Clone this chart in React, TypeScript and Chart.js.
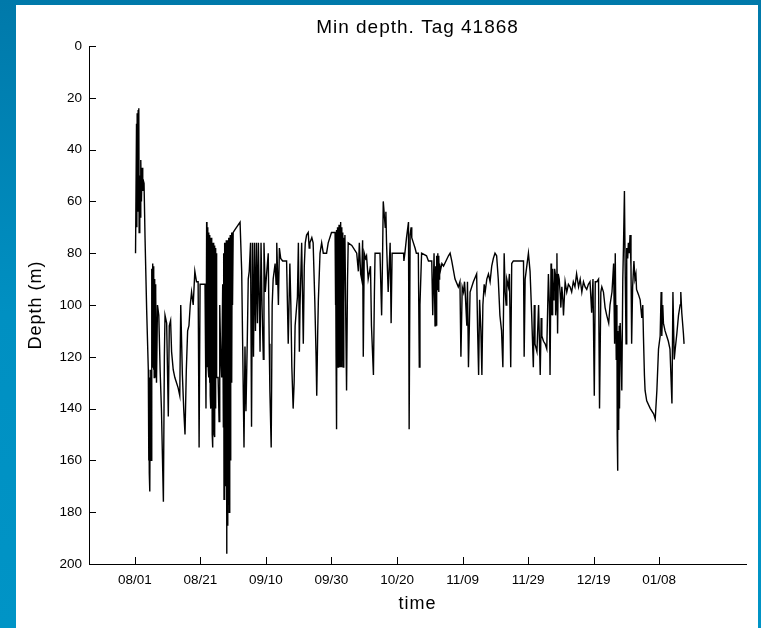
import React, { useEffect, useRef } from "react";
import { Chart, registerables } from "chart.js";

Chart.register(...registerables);

const chartTitle = "Min depth. Tag 41868";
const xAxisTitle = "time";
const yAxisTitle = "Depth (m)";

// x tick positions (days since 08/01) and their labels
const tickDays = [0, 20, 40, 60, 80, 100, 120, 140, 160];
const tickLabels = ["08/01", "08/21", "09/10", "09/30", "10/20", "11/09", "11/29", "12/19", "01/08"];
const depthTicks = [0, 20, 40, 60, 80, 100, 120, 140, 160, 180, 200];

// time in days since 08/01
const days = [
  0.2, 0.5, 0.6, 0.7, 0.9, 1.0, 1.2, 1.3, 1.5, 1.6, 1.8, 2.0, 2.2, 2.4, 2.6, 2.8, 3.1, 3.6, 4.1,
  4.2, 4.3, 4.4, 4.5, 4.6, 4.7, 4.8, 4.9, 5.0, 5.1, 5.2, 5.3, 5.4, 5.5, 5.6, 5.7, 5.8, 5.9, 6.0, 6.1, 6.2, 6.3, 6.4,
  6.6, 6.9, 7.3, 7.7, 8.1, 8.7, 9.0, 9.2, 9.7, 10.2, 10.5, 10.9, 11.2, 11.7, 12.2, 13.2, 13.7, 14.0, 14.5, 14.9, 15.3, 15.7, 16.1, 16.5, 16.9,
  17.3, 17.8, 18.3, 18.8, 19.3, 19.6, 19.9, 20.9, 21.4, 21.7,
  21.9, 22.0, 22.1, 22.2, 22.3, 22.4, 22.5, 22.6, 22.7, 22.8, 22.9, 23.0, 23.1, 23.2, 23.3, 23.4,
  23.5, 23.6, 23.7, 23.8, 23.9, 24.0, 24.1, 24.2, 24.3, 24.4, 24.5, 24.6, 24.7, 24.8, 24.9, 25.0,
  25.4, 25.7, 25.9, 26.2, 26.5, 26.8,
  27.0, 27.1, 27.2, 27.3, 27.4, 27.5, 27.6, 27.7, 27.8, 27.9, 28.0, 28.1, 28.2, 28.3, 28.4, 28.5,
  28.6, 28.7, 28.8, 28.9, 29.0, 29.1, 29.2, 29.3, 29.4, 29.5, 29.6, 29.7, 29.8, 30.0, 30.5,
  32.1, 32.6, 32.9, 33.3, 33.6, 33.9, 34.3, 34.6, 34.9, 35.3, 35.6, 35.9, 36.2, 36.5, 36.8, 37.1, 37.4, 37.7, 38.2, 38.5,
  38.8, 39.2, 39.4, 39.8, 40.2, 40.7, 41.0, 41.2, 41.6, 41.9, 42.2, 42.8, 43.1, 43.3, 43.8, 44.1, 44.5, 45.1, 46.3, 46.8, 47.3,
  47.6, 47.9, 48.3, 48.6, 48.9, 49.4, 49.6, 49.9, 50.2, 50.4, 50.9, 51.4, 51.7, 52.0, 52.4, 52.9,
  53.2, 53.4, 54.0, 54.4, 54.9, 55.3, 55.5, 55.8, 56.0, 56.5, 57.0, 57.5, 58.5, 59.0, 60.0,
  61.1, 61.2, 61.3, 61.4, 61.5, 61.6, 61.7, 61.8, 61.9, 62.0, 62.1, 62.2, 62.3, 62.4, 62.5, 62.6, 62.7,
  62.8, 62.9, 63.0, 63.1, 63.2, 63.3, 63.4, 63.5, 63.6, 63.7, 63.8, 63.9, 64.1, 64.4, 64.6, 64.9, 65.1,
  66.2, 67.7, 68.2, 68.5, 68.9, 69.2, 69.5, 69.7, 70.0, 70.4, 70.7, 71.2, 71.9, 72.2, 72.8, 73.1,
  73.3, 74.8, 75.3, 75.6, 75.8, 76.1, 76.4, 76.6, 76.8, 77.3, 77.9,
  78.2, 78.5, 78.9, 82.0, 82.1, 82.4, 82.9, 83.5, 83.7, 83.8, 84.0, 84.3, 84.5, 85.0, 85.5, 85.9,
  86.5, 86.8, 87.0, 87.5, 89.0, 89.6, 90.6, 90.9, 91.3,
  91.6, 91.8, 91.9, 92.0, 92.1, 92.2, 92.3, 92.4, 92.5, 92.6, 92.7, 92.8, 92.9, 93.0, 93.2, 93.7, 94.2, 95.7, 96.2, 96.7,
  97.7, 98.7, 99.2, 99.5, 99.9, 100.3, 100.6, 100.8, 101.3, 101.5, 101.8, 102.3, 103.3, 104.3, 104.6, 104.9, 105.2, 105.6, 105.9, 106.2,
  106.6, 106.9, 107.4, 107.9, 108.4,
  108.9, 109.4, 109.9, 110.4, 110.9, 111.4, 111.9, 112.3, 112.7, 113.0, 113.3, 113.5, 114.0, 114.3,
  114.7, 115.0, 115.5, 118.6, 118.8, 119.1, 119.6, 120.1, 120.6, 121.1, 121.6, 121.9, 122.1,
  122.7, 123.2, 123.7, 124.0, 124.2, 124.7, 125.2, 125.7, 126.2, 126.5, 126.7,
  127.0, 127.1, 127.2, 127.3, 127.4, 127.5, 127.6, 127.7, 127.9, 128.1, 128.3, 128.4, 128.6, 128.8, 129.0, 129.2, 129.5, 129.8, 130.0, 130.3,
  130.6, 130.8, 131.3, 131.8, 132.3, 132.8, 133.3, 133.8, 134.3, 134.8, 135.4, 135.9, 136.4, 136.9, 137.4, 137.9, 138.4, 138.9,
  139.4, 139.8, 140.2, 140.5, 141.0, 141.5, 141.8, 142.2, 142.5, 143.0, 143.5, 144.0, 144.6, 145.0, 145.6, 146.1, 146.4, 146.6, 146.9, 147.1,
  147.2, 147.3, 147.4, 147.5, 147.6, 147.7, 147.8, 147.9, 148.1, 148.4, 148.6, 148.9, 149.1, 149.4, 149.6, 149.9, 150.1, 150.4, 150.6, 150.9,
  151.1, 151.4, 151.6, 151.9, 152.3, 152.6, 152.9, 153.1, 153.7, 154.2, 154.7, 155.0, 155.2, 155.5, 155.7, 156.2, 157.3, 158.3, 158.8, 159.3,
  159.8, 160.3, 160.6, 160.8, 161.1, 161.3, 161.8, 162.3, 162.8, 163.3, 163.9, 164.2, 164.6, 164.9, 165.4, 165.9, 166.4, 166.6, 166.9, 167.4,
  167.6,
];

// minimum depth (m)
const depths = [
  80, 30, 70, 26, 64, 25, 24, 72, 50, 66, 44, 60, 47, 56, 52, 53, 74, 102, 125,
  160, 130, 165, 128, 172, 130, 155, 125, 160, 110, 86, 124, 84, 120, 85, 125, 88, 128, 90, 122, 92, 128, 95,
  130, 100, 104, 125, 140, 176, 120, 104, 107, 143, 108, 106, 118, 125, 128, 132, 135, 100, 127, 140, 150, 125, 110, 108, 100,
  95, 100, 87, 91, 91, 155, 92, 92, 92, 140,
  68, 124, 70, 124, 72, 125, 72, 128, 73, 130, 74, 135, 74, 140, 74, 131,
  75, 150, 76, 155, 76, 145, 77, 150, 77, 151, 78, 140, 78, 128, 80, 128,
  128, 145, 100, 120, 128, 92,
  147, 80, 175, 76, 160, 76, 110, 76, 170, 75, 196, 75, 185, 75, 160, 75,
  177, 74, 180, 74, 140, 73, 160, 73, 120, 72, 130, 72, 100, 72, 71,
  68, 87, 116, 155, 116, 141, 114, 90, 87, 76, 147, 76, 120, 76, 110, 76, 107, 76, 118, 76,
  100, 121, 76, 95, 88, 80, 115, 133, 155, 100, 90, 84, 92, 76, 100, 78, 82, 83, 83, 115, 84,
  100, 124, 140, 130, 108, 100, 97, 76, 118, 100, 76, 115, 85, 76, 73, 72,
  78, 76, 74, 76, 98, 120, 135, 110, 98, 80, 76, 80, 80, 76, 72,
  72, 100, 72, 120, 71, 148, 71, 95, 70, 124, 70, 110, 69, 124, 69, 100, 68,
  124, 68, 115, 70, 124, 72, 110, 73, 124, 74, 100, 75, 73, 110, 133, 90, 76,
  77, 80, 87, 76, 88, 90, 75, 120, 80, 82, 81, 90, 85, 108, 127, 95,
  80, 80, 104, 80, 60, 65, 70, 64, 76, 95, 76,
  107, 80, 80, 80, 83, 80, 74, 68, 148, 148, 73, 70, 74, 76, 78, 80,
  80, 124, 100, 80, 81, 83, 83, 104, 80,
  108, 85, 95, 82, 108, 81, 94, 80, 92, 81, 95, 82, 90, 84, 87, 84, 85, 81, 80, 83,
  90, 93, 91, 120, 93, 95, 91, 95, 108, 91, 124, 95, 91, 88, 110, 127, 98, 110, 127, 100,
  92, 95, 90, 88, 91,
  85, 82, 80, 81, 90, 104, 110, 124, 80, 95, 100, 90, 93, 88,
  124, 84, 83, 83, 120, 90, 85, 80, 87, 104, 124, 100, 115,
  118, 100, 127, 105, 112, 114, 115, 117, 88, 100, 127,
  84, 104, 88, 100, 86, 104, 90, 98, 95, 86, 88, 104, 100, 80, 111, 88, 90, 96, 101, 93,
  98, 104, 91, 95, 92, 93, 95, 91, 93, 88, 93, 90, 95, 91, 93, 94, 92, 91,
  103, 90, 135, 91, 91, 90, 140, 95, 93, 95, 101, 104, 107, 100, 95, 84, 115, 80, 121, 100,
  150, 164, 110, 148, 112, 147, 108, 140, 107, 118, 133, 90, 78, 56, 83, 115, 78, 82, 76, 80,
  73, 85, 115, 93, 83, 90, 88, 94, 96, 98, 105, 100, 112, 127, 133, 137, 140, 142, 144, 133,
  117, 112, 95, 112, 100, 107, 110, 112, 114, 117, 138, 95, 121, 117, 111, 104, 100, 95, 103, 111,
  115,
];

const FONT = "'Liberation Sans', Arial, Helvetica, sans-serif";

const decorPlugin = {
  id: "decor",
  afterDraw(chart: any) {
    const { ctx, chartArea } = chart;
    const xs = chart.scales.x;
    const ys = chart.scales.y;
    ctx.save();
    ctx.strokeStyle = "#000";
    ctx.lineWidth = 1;
    tickDays.forEach((d) => {
      const px = Math.round(xs.getPixelForValue(d)) + 0.5;
      ctx.beginPath();
      ctx.moveTo(px, chartArea.bottom);
      ctx.lineTo(px, chartArea.bottom - 7);
      ctx.stroke();
    });
    depthTicks.forEach((v) => {
      const py = Math.round(ys.getPixelForValue(v)) + 0.5;
      ctx.beginPath();
      ctx.moveTo(chartArea.left, py);
      ctx.lineTo(chartArea.left + 7, py);
      ctx.stroke();
    });
    ctx.fillStyle = "#000";
    ctx.textAlign = "center";
    ctx.textBaseline = "middle";
    try {
      (ctx as any).letterSpacing = "1px";
    } catch (e) {}
    ctx.font = `19px ${FONT}`;
    ctx.fillText(chartTitle, (chartArea.left + chartArea.right) / 2, 28);
    ctx.font = `18px ${FONT}`;
    ctx.fillText(xAxisTitle, (chartArea.left + chartArea.right) / 2, 604);
    ctx.translate(36, (chartArea.top + chartArea.bottom) / 2);
    ctx.rotate(-Math.PI / 2);
    ctx.fillText(yAxisTitle, 0, 0);
    ctx.restore();
  },
};

export default function App() {
  const ref = useRef<HTMLCanvasElement | null>(null);
  useEffect(() => {
    if (!ref.current) return;
    const n = Math.min(days.length, depths.length);
    const points = days.slice(0, n).map((d, i) => ({ x: d, y: depths[i] }));
    const chart = new Chart(ref.current, {
      type: "line",
      data: {
        datasets: [
          {
            data: points,
            borderColor: "#000",
            borderWidth: 1.4,
            pointRadius: 0,
            tension: 0,
            fill: false,
          },
        ],
      },
      options: {
        animation: false,
        responsive: false,
        events: [],
        layout: { padding: { top: 46, right: 15, left: 0, bottom: 0 } },
        plugins: {
          legend: { display: false },
          tooltip: { enabled: false },
          title: { display: false },
        },
        scales: {
          x: {
            type: "linear",
            min: -14,
            max: 186.5,
            afterFit: (s: any) => {
              s.height = 64;
            },
            afterBuildTicks: (s: any) => {
              s.ticks = tickDays.map((v) => ({ value: v }));
            },
            grid: { display: false, drawTicks: false, tickLength: 0 },
            border: { display: true, color: "#000", width: 1 },
            ticks: {
              autoSkip: false,
              maxRotation: 0,
              padding: 8,
              color: "#000",
              font: { family: FONT, size: 13.5 },
              callback: (v: any) => {
                const i = tickDays.indexOf(Number(v));
                return i >= 0 ? tickLabels[i] : "";
              },
            },
          },
          y: {
            type: "linear",
            reverse: true,
            min: 0,
            max: 200,
            afterFit: (s: any) => {
              s.width = 89;
            },
            afterBuildTicks: (s: any) => {
              s.ticks = depthTicks.map((v) => ({ value: v }));
            },
            grid: { display: false, drawTicks: false, tickLength: 0 },
            border: { display: true, color: "#000", width: 1 },
            ticks: {
              padding: 7,
              color: "#000",
              font: { family: FONT, size: 13.5 },
            },
          },
        },
      },
      plugins: [decorPlugin],
    });
    return () => chart.destroy();
  }, []);

  return (
    <div
      style={{
        position: "fixed",
        left: 0,
        top: 0,
        width: 761,
        height: 628,
        background: "linear-gradient(180deg, #0079aa 0%, #0090c2 50%, #0094c6 100%)",
        overflow: "hidden",
      }}
    >
      <div
        style={{
          position: "absolute",
          left: 16,
          top: 5,
          width: 742,
          height: 623,
          background: "#fff",
        }}
      />
      <canvas
        ref={ref}
        width={761}
        height={628}
        style={{ position: "absolute", left: 0, top: 0, width: 761, height: 628 }}
      />
    </div>
  );
}
